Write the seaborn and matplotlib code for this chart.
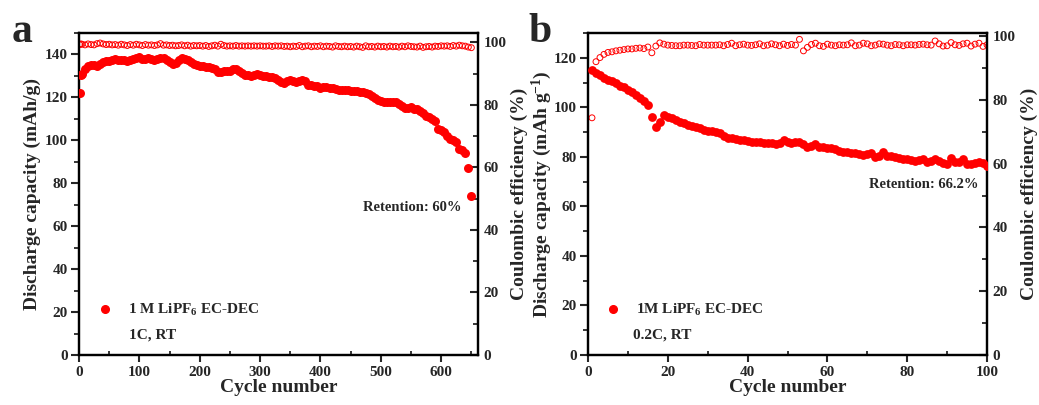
import matplotlib
matplotlib.use("Agg")
import matplotlib.pyplot as plt
import seaborn as sns
import pandas as pd
from matplotlib.lines import Line2D
from matplotlib.ticker import MultipleLocator

# ---------------- data ----------------
cycles_a = [1, 3] + list(range(5, 651, 5))
capacity_a = [122, 130.5,
    131, 133, 134.5, 135, 135, 134.5, 135.5, 136.5, 137, 137,
    137.5, 138, 137.5, 137.5, 137.5, 137, 137.5, 138, 138.5, 139,
    138, 138, 138.5, 138, 137.5, 138, 138.5, 138.5, 137.5, 136.5,
    135.5, 136, 137.5, 138.5, 138, 137.5, 136.5, 135.5, 135, 134.5,
    134.5, 134, 134, 133.5, 133, 132, 132, 132.5, 132.5, 132.5,
    133, 133, 132.5, 131.5, 130.5, 130.5, 130, 130.5, 131, 130.5,
    130, 130, 129.5, 129.5, 129, 128, 127, 126.5, 127.5, 128,
    127.5, 127, 127.5, 128, 127.5, 126, 126, 125.5, 125.5, 124.5,
    125, 125, 124.5, 124.5, 124, 123.5, 123.5, 123.5, 123.5, 123,
    123, 123, 122.5, 122.5, 122, 121.5, 120.5, 119.5, 119, 118.5,
    118, 118, 118, 118, 118, 117, 116, 115, 115, 115.5,
    114.5, 114.5, 113.5, 112.5, 111.5, 111, 110, 109, 105.5, 105,
    104, 102, 100.5, 100, 99, 96, 95.5, 94, 87, 74]
ce_a = [99.3, 99.5,
    99.4, 99.2, 99.5, 99.3, 99.2, 99.6, 99.8, 99.5, 99.3, 99.4,
    99.2, 99.3, 99.1, 99.4, 99.2, 99.0, 99.3, 99.1, 99.4, 99.2,
    99.0, 99.3, 99.1, 99.2, 99.0, 99.2, 99.6, 99.1, 99.2, 99.0,
    99.1, 98.9, 99.0, 99.2, 98.9, 99.1, 98.8, 99.0, 98.9, 99.0,
    98.8, 99.0, 98.7, 98.9, 99.1, 98.8, 99.4, 99.0, 98.8, 98.9,
    98.8, 99.0, 98.8, 98.9, 98.8, 98.9, 98.8, 98.9, 98.8, 98.9,
    98.8, 98.8, 98.9, 98.7, 98.9, 98.8, 98.9, 98.7, 98.8, 98.6,
    98.8, 98.7, 99.0, 98.6, 98.8, 98.9, 98.6, 98.8, 98.7, 98.9,
    98.6, 98.8, 98.7, 98.5, 98.9, 98.7, 98.6, 98.8, 98.6, 98.7,
    98.5, 98.8, 98.6, 98.4, 98.9, 98.6, 98.7, 98.5, 98.8, 98.6,
    98.7, 98.5, 98.8, 98.6, 98.7, 98.5, 98.8, 98.6, 98.9, 98.7,
    98.6, 98.5, 98.8, 98.4, 98.6, 98.7, 98.5, 98.8, 98.7, 98.9,
    98.8, 98.9, 98.7, 99.0, 98.8, 99.1, 98.9, 98.8, 98.5, 98.3]

cycles_b = list(range(1, 101))
capacity_b = [
    115.0, 114.0, 113.0, 112.0, 111.2, 110.5, 109.8, 108.8, 108.0, 107.0,
    106.0, 104.8, 103.8, 102.5, 100.8, 96.2, 92.2, 94.2, 96.9, 96.2,
    95.5, 95.0, 94.0, 93.5, 93.0, 92.5, 92.0, 91.5, 91.0, 90.5,
    90.3, 90.0, 89.5, 88.5, 87.5, 87.5, 87.3, 87.0, 86.8, 86.5,
    86.0, 86.0, 85.8, 85.7, 85.6, 85.5, 85.3, 85.5, 87.0, 86.0,
    85.7, 86.0, 86.0, 85.0, 84.0, 84.5, 85.0, 84.0, 83.8, 83.7,
    83.5, 83.0, 82.5, 82.0, 81.8, 81.6, 81.5, 81.0, 80.8, 81.3,
    81.5, 80.0, 80.2, 81.8, 80.5, 80.2, 79.8, 79.5, 79.2, 79.0,
    78.8, 78.3, 78.6, 79.0, 78.0, 78.3, 79.2, 78.4, 77.5, 77.2,
    79.5, 77.8, 78.0, 79.2, 77.2, 77.0, 77.5, 78.0, 77.5, 76.2]
ce_b = [
    74.4, 92.0, 93.3, 94.3, 94.9, 95.1, 95.4, 95.6, 95.8, 96.0,
    96.0, 96.2, 96.3, 96.1, 96.6, 94.8, 96.9, 97.9, 97.5, 97.2,
    97.1, 97.0, 97.0, 97.2, 97.2, 97.1, 97.0, 97.4, 97.2, 97.2,
    97.2, 97.2, 97.3, 97.0, 97.4, 97.8, 97.0, 97.3, 97.5, 97.2,
    97.1, 97.3, 97.6, 97.0, 97.2, 97.6, 97.3, 97.0, 97.5, 97.1,
    97.4, 97.2, 99.0, 95.4, 96.5, 97.4, 97.8, 97.0, 96.8, 97.5,
    97.2, 97.0, 97.3, 97.2, 97.3, 97.9, 97.0, 97.2, 97.8, 97.6,
    97.0, 97.2, 97.6, 97.5, 97.2, 97.0, 97.4, 97.3, 97.0, 97.3,
    97.3, 97.2, 97.4, 97.5, 97.3, 97.2, 98.5, 97.6, 96.9, 97.0,
    98.0, 97.3, 97.1, 97.6, 97.8, 96.9, 97.5, 97.8, 96.8, 97.3]

panel_letters = ["a", "b"]
legend_labels = ["1 M LiPF$_6$ EC-DEC", "1M LiPF$_6$ EC-DEC"]
condition_labels = ["1C, RT", "0.2C, RT"]
retention_labels = ["Retention: 60%", "Retention: 66.2%"]
left_ylabels = ["Discharge capacity (mAh/g)", "Discharge capacity (mAh g$^{-1}$)"]
right_ylabel = "Coulombic efficiency (%)"
xlabel = "Cycle number"

# ---------------- style ----------------
sns.set_style("ticks")
plt.rcParams["font.family"] = ["Liberation Serif", "DejaVu Serif"]
plt.rcParams["font.weight"] = "bold"
plt.rcParams["axes.labelweight"] = "bold"
plt.rcParams["mathtext.fontset"] = "custom"
plt.rcParams["mathtext.rm"] = "Liberation Serif:bold"
plt.rcParams["mathtext.it"] = "Liberation Serif:bold:italic"
plt.rcParams["mathtext.bf"] = "Liberation Serif:bold"
plt.rcParams["mathtext.default"] = "rm"

RED = "#ff0000"
fig = plt.figure(figsize=(10.39, 4.05), dpi=100)

panels = [
    dict(pos=(79, 478), cyc=cycles_a, cap=capacity_a, ce=ce_a, xlim=(0, 661), xmaj=100, xmin=50,
         ylim=(0, 150), ymaj=20, rlim=(0, 103), leg_x=0.045, cond_x=0.125, ret=(0.835, 0.457),
         cap_s=42, ce_s=18, lpad=3, rpad=3),
    dict(pos=(588, 987), cyc=cycles_b, cap=capacity_b, ce=ce_b, xlim=(0, 100), xmaj=20, xmin=10,
         ylim=(0, 130), ymaj=20, rlim=(0, 101), leg_x=0.043, cond_x=0.113, ret=(0.841, 0.528),
         cap_s=40, ce_s=18, lpad=0, rpad=4),
]

W, H = 1039, 405
top_px, bot_px = 33, 355

for i, p in enumerate(panels):
    l, r = p["pos"]
    ax = fig.add_axes([l / W, 1 - bot_px / H, (r - l) / W, (bot_px - top_px) / H])
    ax2 = ax.twinx()

    df = pd.DataFrame({"cycle": p["cyc"], "capacity": p["cap"], "ce": p["ce"]})
    sns.scatterplot(data=df, x="cycle", y="capacity", ax=ax, color=RED, marker="o",
                    s=p["cap_s"], linewidth=0, zorder=3)
    sns.scatterplot(data=df, x="cycle", y="ce", ax=ax2, color=RED, marker="o",
                    s=p["ce_s"], linewidth=0.7, zorder=3)
    for coll in ax2.collections:
        coll.set_facecolor("none")
        coll.set_edgecolor(RED)

    ax.set_xlim(*p["xlim"])
    ax.set_ylim(*p["ylim"])
    ax2.set_ylim(*p["rlim"])
    ax.xaxis.set_major_locator(MultipleLocator(p["xmaj"]))
    ax.xaxis.set_minor_locator(MultipleLocator(p["xmin"]))
    ax.yaxis.set_major_locator(MultipleLocator(p["ymaj"]))
    ax.yaxis.set_minor_locator(MultipleLocator(10))
    ax2.yaxis.set_major_locator(MultipleLocator(20))
    ax2.yaxis.set_minor_locator(MultipleLocator(10))

    for a in (ax, ax2):
        for s in a.spines.values():
            s.set_linewidth(1.6)
            s.set_color("black")
            s.set_visible(True)

    ax.tick_params(axis="y", which="major", direction="out", length=6, width=1.5,
                   labelsize=11, pad=2, right=False)
    ax.tick_params(axis="y", which="minor", direction="out", length=3.5, width=1.3, right=False)
    ax.tick_params(axis="x", which="major", direction="out", length=5, width=1.5,
                   labelsize=11, pad=3, top=False)
    ax.tick_params(axis="x", which="minor", direction="in", length=3, width=1.3, top=False)
    ax2.tick_params(axis="y", which="major", direction="in", length=6, width=1.5,
                    labelsize=11, pad=4)
    ax2.tick_params(axis="y", which="minor", direction="in", length=3.5, width=1.3)
    for lab in ax.get_xticklabels() + ax.get_yticklabels() + ax2.get_yticklabels():
        lab.set_fontweight("bold")

    ax.set_xlabel(xlabel, fontsize=14, fontweight="bold", labelpad=0)
    ax.set_ylabel(left_ylabels[i], fontsize=14, fontweight="bold", labelpad=p["lpad"])
    ax2.set_ylabel(right_ylabel, fontsize=14, fontweight="bold", labelpad=p["rpad"])

    handle = Line2D([], [], marker="o", color=RED, linestyle="", markersize=5.5)
    ax.legend(handles=[handle], labels=[legend_labels[i]], loc="center left",
              bbox_to_anchor=(p["leg_x"], 0.14), frameon=False, handlelength=1.0,
              handletextpad=1.0, borderpad=0, borderaxespad=0,
              prop={"family": "Liberation Serif", "weight": "bold", "size": 11})
    ax.text(p["cond_x"], 0.062, condition_labels[i], transform=ax.transAxes,
            ha="left", va="center", fontsize=11, fontweight="bold")
    ax.text(p["ret"][0], p["ret"][1], retention_labels[i], transform=ax.transAxes,
            ha="center", va="center", fontsize=10.5, fontweight="bold")

    ax.set_zorder(ax2.get_zorder() + 1)
    ax.patch.set_visible(False)

fig.text(12 / W, 1 - 42 / H, panel_letters[0], fontsize=30, fontweight="bold",
         ha="left", va="baseline")
fig.text(528 / W, 1 - 42 / H, panel_letters[1], fontsize=30, fontweight="bold",
         ha="left", va="baseline")

fig.savefig("out.png", dpi=100)
